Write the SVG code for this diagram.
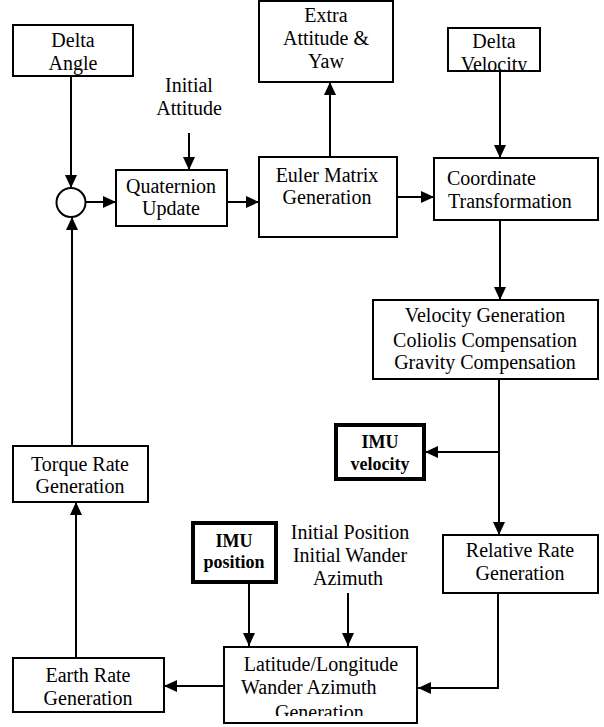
<svg xmlns="http://www.w3.org/2000/svg" width="604" height="727" viewBox="0 0 604 727">
<style>
.box{fill:#fff;stroke:#000;stroke-width:2}
.bold{fill:#fff;stroke:#000;stroke-width:4}
text{font-family:"Liberation Serif","Times New Roman",serif;font-size:20px;fill:#000;text-anchor:middle}
.b{font-weight:bold;font-size:18px}
.l{text-anchor:start}
.c line,.c path{stroke:#000;stroke-width:2;fill:none}
</style>
<defs>
<marker id="ah" markerUnits="userSpaceOnUse" markerWidth="14" markerHeight="12" refX="13" refY="6" orient="auto">
<path d="M0,0 L13,6 L0,12 Z" fill="#000"/>
</marker>
<clipPath id="cdv"><rect x="448" y="28" width="92" height="42"/></clipPath>
<clipPath id="clat"><rect x="224" y="647" width="193" height="69"/></clipPath>
</defs>
<rect width="604" height="727" fill="#fff"/>

<g class="c" id="connectors">
<line x1="71" y1="76" x2="71" y2="188" marker-end="url(#ah)"/>
<line x1="86" y1="202" x2="116" y2="202" marker-end="url(#ah)"/>
<line x1="189" y1="133" x2="189" y2="170" marker-end="url(#ah)"/>
<line x1="227" y1="202" x2="259" y2="202" marker-end="url(#ah)"/>
<line x1="330" y1="157" x2="330" y2="82" marker-end="url(#ah)"/>
<line x1="397" y1="197" x2="434" y2="197" marker-end="url(#ah)"/>
<line x1="500" y1="71" x2="500" y2="158" marker-end="url(#ah)"/>
<line x1="500" y1="220" x2="500" y2="300" marker-end="url(#ah)"/>
<line x1="499" y1="379" x2="499" y2="535" marker-end="url(#ah)"/>
<line x1="499" y1="452" x2="425" y2="452" marker-end="url(#ah)"/>
<path d="M498,593 L498,688 L418,688" marker-end="url(#ah)"/>
<line x1="249" y1="582" x2="249" y2="646" marker-end="url(#ah)"/>
<line x1="348" y1="593" x2="348" y2="646" marker-end="url(#ah)"/>
<line x1="224" y1="686" x2="164" y2="686" marker-end="url(#ah)"/>
<line x1="76" y1="658" x2="76" y2="502" marker-end="url(#ah)"/>
<line x1="72" y1="446" x2="72" y2="217" marker-end="url(#ah)"/>
</g>

<g id="delta-angle">
<rect class="box" x="13" y="25" width="120" height="51"/>
<text x="73" y="47">Delta</text>
<text x="73" y="70">Angle</text>
</g>

<g id="sum">
<circle cx="71" cy="202.5" r="14.5" fill="#fff" stroke="#000" stroke-width="2"/>
</g>

<g id="initial-attitude">
<text x="189" y="92">Initial</text>
<text x="189" y="115">Attitude</text>
</g>

<g id="quaternion">
<rect class="box" x="116" y="170" width="111" height="56"/>
<text x="171" y="193">Quaternion</text>
<text x="171" y="215">Update</text>
</g>

<g id="extra">
<rect class="box" x="259" y="1" width="134" height="81"/>
<text x="326" y="22">Extra</text>
<text x="326" y="45">Attitude &amp;</text>
<text x="326" y="68">Yaw</text>
</g>

<g id="euler">
<rect class="box" x="259" y="157" width="138" height="80"/>
<text x="327" y="182">Euler Matrix</text>
<text x="327" y="204">Generation</text>
</g>

<g id="delta-velocity">
<rect class="box" x="448" y="28" width="92" height="43"/>
<text x="494" y="48">Delta</text>
<text x="494" y="71" clip-path="url(#cdv)">Velocity</text>
</g>

<g id="coordinate">
<rect class="box" x="434" y="158" width="164" height="62"/>
<text class="l" x="447" y="185">Coordinate</text>
<text class="l" x="448" y="208">Transformation</text>
</g>

<g id="velocity-gen">
<rect class="box" x="373" y="300" width="225" height="79"/>
<text x="485" y="322">Velocity Generation</text>
<text x="485" y="347">Coliolis Compensation</text>
<text x="485" y="369">Gravity Compensation</text>
</g>

<g id="imu-velocity">
<rect class="bold" x="336" y="425" width="88" height="54"/>
<text class="b" x="380" y="448">IMU</text>
<text class="b" x="380" y="470">velocity</text>
</g>

<g id="relative-rate">
<rect class="box" x="443" y="535" width="155" height="58"/>
<text x="520" y="557">Relative Rate</text>
<text x="520" y="580">Generation</text>
</g>

<g id="initial-position">
<text x="350" y="539">Initial Position</text>
<text x="350" y="562">Initial Wander</text>
<text x="348" y="585">Azimuth</text>
</g>

<g id="imu-position">
<rect class="bold" x="193" y="523" width="83" height="59"/>
<text class="b" x="234" y="547">IMU</text>
<text class="b" x="234" y="568">position</text>
</g>

<g id="lat-long">
<rect class="box" x="224" y="647" width="193" height="76"/>
<text x="321" y="671">Latitude/Longitude</text>
<text class="l" x="241" y="694">Wander Azimuth</text>
<text class="l" x="275" y="719" clip-path="url(#clat)">Generation</text>
</g>

<g id="earth-rate">
<rect class="box" x="13" y="658" width="151" height="54"/>
<text x="88" y="682">Earth Rate</text>
<text x="88" y="705">Generation</text>
</g>

<g id="torque-rate">
<rect class="box" x="13" y="446" width="135" height="56"/>
<text x="80" y="471">Torque Rate</text>
<text x="80" y="493">Generation</text>
</g>
</svg>
